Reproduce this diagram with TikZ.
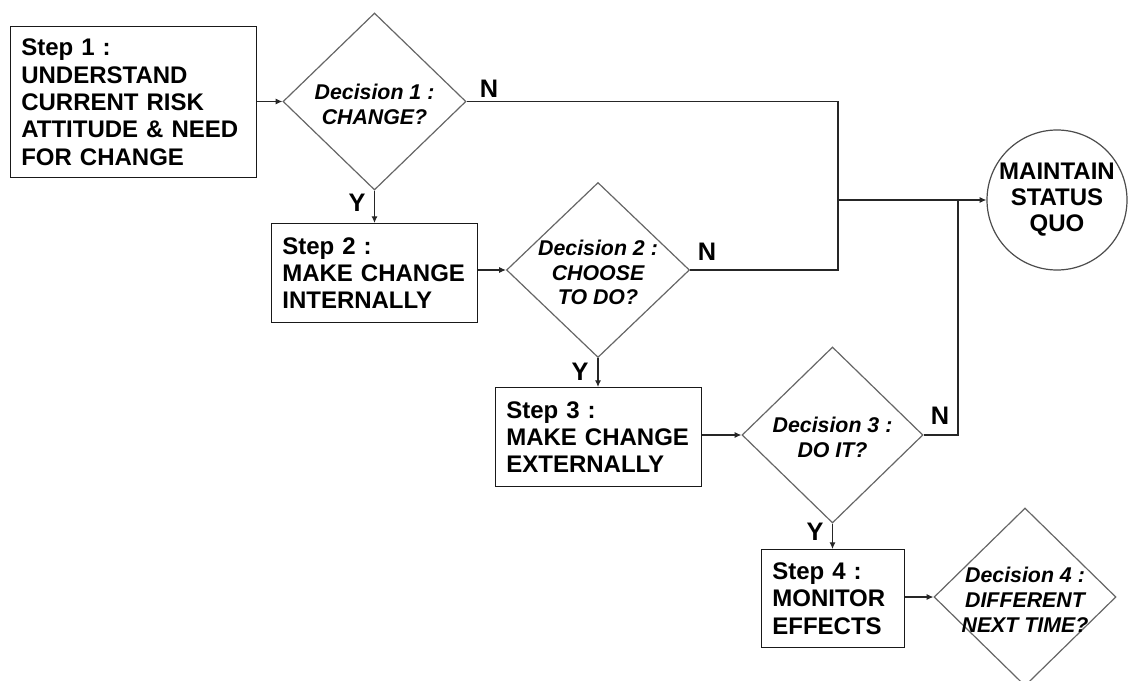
\documentclass[tikz,border=0pt]{standalone}
\usepackage{fontspec}
\setmainfont{Liberation Sans}
\usetikzlibrary{shapes.geometric,arrows.meta}
\begin{document}
\begin{tikzpicture}[x=0.75pt,y=-0.75pt,
  stepbox/.style={draw=black!90, line width=1pt, rectangle, align=left,
    font=\bfseries\fontsize{18}{20.5}\selectfont, inner xsep=8pt, inner ysep=0pt, anchor=north west},
  dec/.style={draw=black!60, line width=0.9pt, diamond, inner sep=0pt},
  dectext/.style={align=center, inner sep=0pt, yshift=-2pt,
    font=\bfseries\itshape\fontsize{16}{18.5}\selectfont},
  endnode/.style={draw=black!70, line width=0.9pt, circle, inner sep=0pt, align=center,
    minimum size=105pt, font=\bfseries\fontsize{18}{19.5}\selectfont},
  lab/.style={font=\bfseries\fontsize{19}{20}\selectfont, inner sep=0pt},
  conn/.style={draw=black!85, line width=0.8pt},
  arr/.style={conn, -{Latex[length=5pt,width=4.5pt]}}
]
\useasboundingbox (0,0) rectangle (1128,681);
\clip (0,0) rectangle (1128,681);

% steps
\node[stepbox, text width=168.5pt, minimum height=113.25pt] (s1) at (10,26)
  {Step 1 :\\UNDERSTAND\\CURRENT RISK\\ATTITUDE \& NEED\\FOR CHANGE};
\node[stepbox, text width=138.5pt, minimum height=74.25pt] (s2) at (271,223)
  {Step 2 :\\MAKE CHANGE\\INTERNALLY};
\node[stepbox, text width=138.5pt, minimum height=74.25pt] (s3) at (495,387)
  {Step 3 :\\MAKE CHANGE\\EXTERNALLY};
\node[stepbox, text width=91.25pt, minimum height=73.5pt] (s4) at (761,549)
  {Step 4 :\\MONITOR\\EFFECTS};

% decisions
\node[dec, minimum width=137.25pt, minimum height=132.75pt] (d1) at (374.5,101.5) {};
\node[dec, minimum width=137.25pt, minimum height=131.25pt] (d2) at (598,270) {};
\node[dec, minimum width=135.75pt, minimum height=132pt] (d3) at (832.5,435) {};
\node[dec, minimum width=136.5pt, minimum height=133.5pt] (d4) at (1025,597) {};
\node[dectext] (t1) at (d1.center) {Decision 1 :\\CHANGE?};
\node[dectext] (t2) at (d2.center) {Decision 2 :\\CHOOSE\\TO DO?};
\node[dectext] (t3) at (d3.center) {Decision 3 :\\DO IT?};
\node[dectext] (t4) at (d4.center) {Decision 4 :\\DIFFERENT\\NEXT TIME?};

% end state
\node[endnode] (msq) at (1057,200) {MAINTAIN\\STATUS\\QUO};

% junctions
\coordinate (jt) at (838,200);
\coordinate (jr) at (958,200);

% labels
\node[lab] (n1) at (489,89) {N};
\node[lab] (n2) at (707,252) {N};
\node[lab] (n3) at (940,416) {N};
\node[lab] (y1) at (357,203) {Y};
\node[lab] (y2) at (580,372) {Y};
\node[lab] (y3) at (815,532) {Y};

% connectors
\draw[arr] (s1.east |- d1.west) -- (d1.west);
\draw[arr] (d1.south) -- (d1.south |- s2.north);
\draw[arr] (s2.east |- d2.west) -- (d2.west);
\draw[arr] (d2.south) -- (d2.south |- s3.north);
\draw[arr] (s3.east |- d3.west) -- (d3.west);
\draw[arr] (d3.south) -- (d3.south |- s4.north);
\draw[arr] (s4.east |- d4.west) -- (d4.west);

\draw[conn] (d1.east) -| (jt);
\draw[conn] (d2.east) -| (jt);
\draw[conn] (d3.east) -| (jr);
\draw[arr] (jt) -- (msq.west);
\end{tikzpicture}
\end{document}
